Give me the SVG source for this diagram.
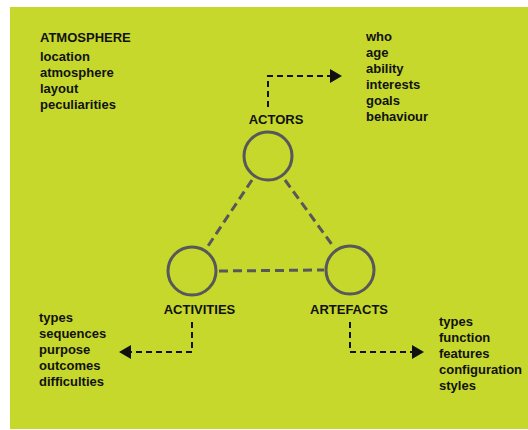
<svg xmlns="http://www.w3.org/2000/svg" width="528" height="430" viewBox="0 0 528 430">
<defs>
<style>
text{font-family:"Liberation Sans",Arial,sans-serif;font-weight:bold;font-size:13px;fill:#111}
.node circle{fill:none;stroke:#58585a;stroke-width:3}
.tri{stroke:#58585a;stroke-width:3;stroke-dasharray:9 5;fill:none}
.arr{stroke:#111;stroke-width:2;stroke-dasharray:6 4;fill:none}
.head{fill:#111}
</style>
</defs>
<rect x="10" y="7" width="518" height="422" fill="#c5d82b"/>
<g id="atmosphere">
<text x="40" y="42">ATMOSPHERE</text>
<text x="40" y="61">location</text>
<text x="40" y="77">atmosphere</text>
<text x="40" y="93">layout</text>
<text x="40" y="109">peculiarities</text>
</g>
<g id="connectors">
<line class="tri" x1="252" y1="180" x2="208" y2="246"/>
<line class="tri" x1="285" y1="180" x2="333" y2="246"/>
<line class="tri" x1="219" y1="271" x2="324" y2="270"/>
<polyline class="arr" points="268,107 268,76 331,76"/>
<polygon class="head" points="330,69 342,76 330,83"/>
<polyline class="arr" points="192,322 192,352 131,352"/>
<polygon class="head" points="131,345 119,352 131,359"/>
<polyline class="arr" points="350,322 350,352 412,352"/>
<polygon class="head" points="412,345 424,352 412,359"/>
</g>
<g id="actors" class="node">
<circle cx="268" cy="156" r="24"/>
<text x="276" y="124" text-anchor="middle">ACTORS</text>
</g>
<g id="activities" class="node">
<circle cx="192" cy="271" r="24"/>
<text x="199.5" y="314" text-anchor="middle">ACTIVITIES</text>
</g>
<g id="artefacts" class="node">
<circle cx="350" cy="270" r="24"/>
<text x="349" y="314" text-anchor="middle">ARTEFACTS</text>
</g>
<g id="actors-list">
<text x="366" y="41">who</text>
<text x="366" y="57">age</text>
<text x="366" y="73">ability</text>
<text x="366" y="89">interests</text>
<text x="366" y="105">goals</text>
<text x="366" y="121">behaviour</text>
</g>
<g id="activities-list">
<text x="39" y="322">types</text>
<text x="39" y="338">sequences</text>
<text x="39" y="354">purpose</text>
<text x="39" y="370">outcomes</text>
<text x="39" y="386">difficulties</text>
</g>
<g id="artefacts-list">
<text x="439" y="326">types</text>
<text x="439" y="342">function</text>
<text x="439" y="358">features</text>
<text x="439" y="374">configuration</text>
<text x="439" y="390">styles</text>
</g>
</svg>
